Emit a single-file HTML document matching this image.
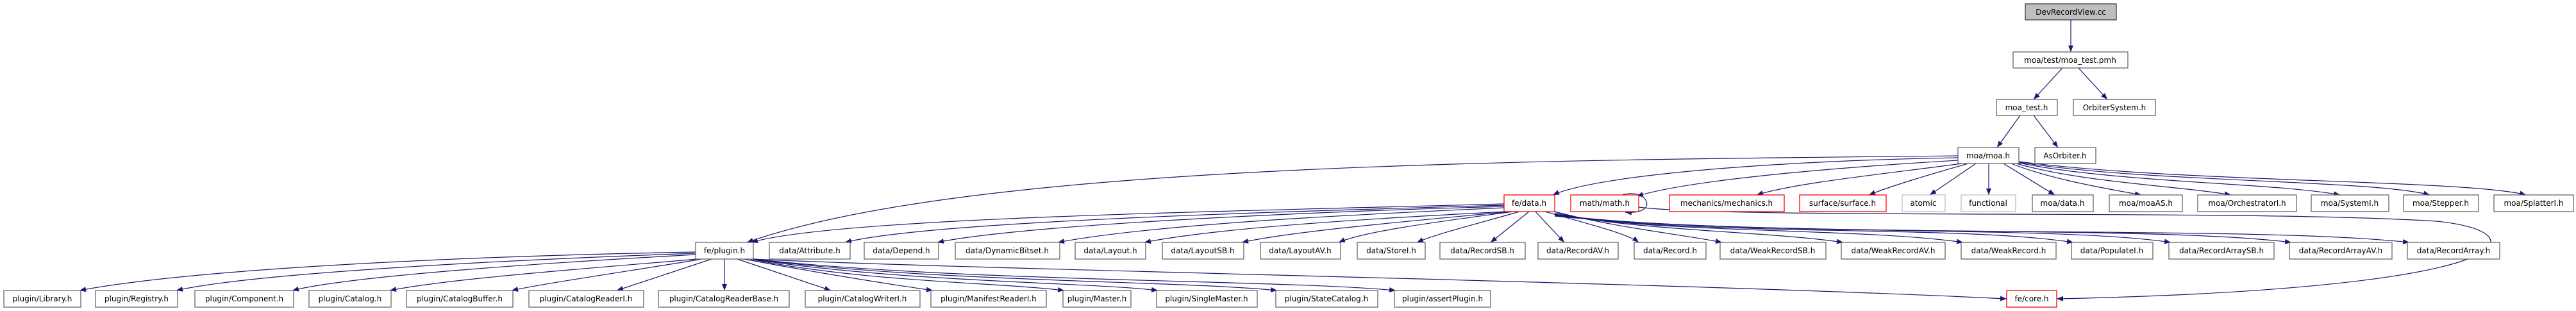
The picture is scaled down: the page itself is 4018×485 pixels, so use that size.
<!DOCTYPE html>
<html><head><meta charset="utf-8"><style>
html,body{margin:0;padding:0;background:#fff;}
svg{display:block;}
text{font-family:"DejaVu Sans","Liberation Sans",sans-serif;font-size:12px;fill:#000;text-anchor:middle;}
.n{fill:#fff;stroke:#666;stroke-width:1.3;}
.r{fill:#fff;stroke:#ff0000;stroke-width:1.3;}
.g{fill:#fff;stroke:#bfbfbf;stroke-width:1.3;}
.e{fill:none;stroke:#191970;stroke-width:1.2;}
</style></head><body>
<svg width="4018" height="485" viewBox="0 0 4018 485" xmlns="http://www.w3.org/2000/svg">
<defs><marker id="a" markerWidth="10" markerHeight="8" refX="10" refY="4" orient="auto" markerUnits="userSpaceOnUse"><path d="M0,0 L10,4 L0,8 z" fill="#191970"/></marker></defs>
<g marker-end="url(#a)">
<path class="e" d="M3230,31 L3230,81"/>
<path class="e" d="M3217,106 L3172,155"/>
<path class="e" d="M3242,106 L3287,155"/>
<path class="e" d="M3151,180 L3115,230"/>
<path class="e" d="M3172,180 L3210,230"/>
<path class="e" d="M3054,246 C2800,250 2500,270 2422,304"/>
<path class="e" d="M3054,250 C2800,265 2620,285 2553,306"/>
<path class="e" d="M3060,255 C2950,270 2800,285 2740,304"/>
<path class="e" d="M3070,255 C3000,275 2950,290 2915,304"/>
<path class="e" d="M3082,255 L3010,304"/>
<path class="e" d="M3102,255 L3102,304"/>
<path class="e" d="M3125,255 L3205,304"/>
<path class="e" d="M3137,255 C3200,280 3290,295 3340,304"/>
<path class="e" d="M3145,255 C3250,285 3400,290 3480,304"/>
<path class="e" d="M3149,254 C3300,285 3550,285 3650,304"/>
<path class="e" d="M3149,253 C3350,285 3700,280 3790,304"/>
<path class="e" d="M3149,252 C3400,285 3850,280 3940,304"/>
<path class="e" d="M3054,243 C2300,250 1500,260 1165,378"/>
<path class="e" d="M2346,318 C1900,330 1300,340 1172,378"/>
<path class="e" d="M2346,320 C2000,330 1450,345 1318,378"/>
<path class="e" d="M2346,322 C2050,330 1600,350 1462,378"/>
<path class="e" d="M2346,324 C2100,335 1800,350 1650,378"/>
<path class="e" d="M2350,330 C2150,340 1900,355 1785,378"/>
<path class="e" d="M2355,330 C2200,345 2020,360 1937,378"/>
<path class="e" d="M2360,330 C2250,345 2130,360 2088,378"/>
<path class="e" d="M2370,330 C2300,350 2240,365 2210,378"/>
<path class="e" d="M2385,330 L2325,378"/>
<path class="e" d="M2395,330 L2440,378"/>
<path class="e" d="M2410,330 C2480,350 2540,365 2556,378"/>
<path class="e" d="M2425,330 C2520,355 2620,365 2686,378"/>
<path class="e" d="M2425,332 C2550,360 2750,360 2875,378"/>
<path class="e" d="M2425,334 C2600,365 2900,355 3062,378"/>
<path class="e" d="M2425,334 C2650,370 3050,350 3234,378"/>
<path class="e" d="M2425,335 C2700,370 3200,350 3386,378"/>
<path class="e" d="M2425,336 C2750,372 3350,350 3574,378"/>
<path class="e" d="M2425,337 C2800,374 3500,350 3758,378"/>
<path class="e" d="M2530,304 C2570,292 2590,335 2535,331"/>
<path class="e" d="M2556,323 C2700,342 3500,326 3800,345 C3960,360 3960,450 3208,466"/>
<path class="e" d="M1085,393 C700,400 300,420 124,453"/>
<path class="e" d="M1085,395 C800,405 400,425 275,453"/>
<path class="e" d="M1085,397 C850,410 550,430 456,453"/>
<path class="e" d="M1088,404 C900,420 700,435 608,453"/>
<path class="e" d="M1095,404 C1000,420 860,440 798,453"/>
<path class="e" d="M1110,404 L962,453"/>
<path class="e" d="M1130,404 L1130,453"/>
<path class="e" d="M1150,404 L1296,453"/>
<path class="e" d="M1160,404 C1300,430 1400,445 1455,453"/>
<path class="e" d="M1170,404 C1350,440 1550,440 1660,453"/>
<path class="e" d="M1173,404 C1400,440 1700,440 1806,453"/>
<path class="e" d="M1175,404 C1450,440 1850,438 1992,453"/>
<path class="e" d="M1175,404 C1500,440 2000,436 2177,453"/>
<path class="e" d="M1175,404 C1500,420 2600,440 3130,466"/>
</g>
<rect x="3159" y="6" width="142" height="25" fill="#bfbfbf" stroke="#404040" stroke-width="1.3"/><text x="3230" y="23">DevRecordView.cc</text>
<rect class="n" x="3140" y="81" width="179" height="25"/><text x="3229" y="98">moa/test/moa_test.pmh</text>
<rect class="n" x="3114" y="155" width="95" height="25"/><text x="3161" y="172">moa_test.h</text>
<rect class="n" x="3234" y="155" width="128" height="25"/><text x="3298" y="172">OrbiterSystem.h</text>
<rect class="n" x="3054" y="230" width="95" height="25"/><text x="3101" y="247">moa/moa.h</text>
<rect class="n" x="3174" y="230" width="95" height="25"/><text x="3221" y="247">AsOrbiter.h</text>
<rect class="r" x="2346" y="304" width="79" height="26"/><text x="2385" y="321">fe/data.h</text>
<rect class="r" x="2450" y="304" width="106" height="26"/><text x="2503" y="321">math/math.h</text>
<rect class="r" x="2604" y="304" width="179" height="26"/><text x="2693" y="321">mechanics/mechanics.h</text>
<rect class="r" x="2807" y="304" width="135" height="26"/><text x="2874" y="321">surface/surface.h</text>
<rect class="g" x="2967" y="304" width="67" height="26"/><text x="3000" y="321">atomic</text>
<rect class="g" x="3059" y="304" width="85" height="26"/><text x="3101" y="321">functional</text>
<rect class="n" x="3170" y="304" width="95" height="26"/><text x="3217" y="321">moa/data.h</text>
<rect class="n" x="3290" y="304" width="114" height="26"/><text x="3347" y="321">moa/moaAS.h</text>
<rect class="n" x="3428" y="304" width="154" height="26"/><text x="3505" y="321">moa/OrchestratorI.h</text>
<rect class="n" x="3605" y="304" width="121" height="26"/><text x="3665" y="321">moa/SystemI.h</text>
<rect class="n" x="3749" y="304" width="117" height="26"/><text x="3807" y="321">moa/Stepper.h</text>
<rect class="n" x="3890" y="304" width="124" height="26"/><text x="3952" y="321">moa/SplatterI.h</text>
<rect class="n" x="1085" y="378" width="90" height="26"/><text x="1130" y="395">fe/plugin.h</text>
<rect class="n" x="1200" y="378" width="126" height="26"/><text x="1263" y="395">data/Attribute.h</text>
<rect class="n" x="1348" y="378" width="116" height="26"/><text x="1406" y="395">data/Depend.h</text>
<rect class="n" x="1490" y="378" width="163" height="26"/><text x="1571" y="395">data/DynamicBitset.h</text>
<rect class="n" x="1677" y="378" width="110" height="26"/><text x="1732" y="395">data/Layout.h</text>
<rect class="n" x="1813" y="378" width="127" height="26"/><text x="1876" y="395">data/LayoutSB.h</text>
<rect class="n" x="1966" y="378" width="125" height="26"/><text x="2028" y="395">data/LayoutAV.h</text>
<rect class="n" x="2117" y="378" width="106" height="26"/><text x="2170" y="395">data/StoreI.h</text>
<rect class="n" x="2246" y="378" width="133" height="26"/><text x="2312" y="395">data/RecordSB.h</text>
<rect class="n" x="2399" y="378" width="125" height="26"/><text x="2461" y="395">data/RecordAV.h</text>
<rect class="n" x="2549" y="378" width="112" height="26"/><text x="2605" y="395">data/Record.h</text>
<rect class="n" x="2683" y="378" width="165" height="26"/><text x="2765" y="395">data/WeakRecordSB.h</text>
<rect class="n" x="2872" y="378" width="162" height="26"/><text x="2953" y="395">data/WeakRecordAV.h</text>
<rect class="n" x="3059" y="378" width="148" height="26"/><text x="3133" y="395">data/WeakRecord.h</text>
<rect class="n" x="3231" y="378" width="127" height="26"/><text x="3294" y="395">data/PopulateI.h</text>
<rect class="n" x="3383" y="378" width="164" height="26"/><text x="3465" y="395">data/RecordArraySB.h</text>
<rect class="n" x="3571" y="378" width="160" height="26"/><text x="3651" y="395">data/RecordArrayAV.h</text>
<rect class="n" x="3755" y="378" width="144" height="26"/><text x="3827" y="395">data/RecordArray.h</text>
<rect class="n" x="6" y="453" width="120" height="26"/><text x="66" y="470">plugin/Library.h</text>
<rect class="n" x="149" y="453" width="128" height="26"/><text x="213" y="470">plugin/Registry.h</text>
<rect class="n" x="304" y="453" width="154" height="26"/><text x="381" y="470">plugin/Component.h</text>
<rect class="n" x="482" y="453" width="128" height="26"/><text x="546" y="470">plugin/Catalog.h</text>
<rect class="n" x="634" y="453" width="166" height="26"/><text x="717" y="470">plugin/CatalogBuffer.h</text>
<rect class="n" x="825" y="453" width="179" height="26"/><text x="914" y="470">plugin/CatalogReaderI.h</text>
<rect class="n" x="1027" y="453" width="204" height="26"/><text x="1129" y="470">plugin/CatalogReaderBase.h</text>
<rect class="n" x="1256" y="453" width="179" height="26"/><text x="1345" y="470">plugin/CatalogWriterI.h</text>
<rect class="n" x="1452" y="453" width="180" height="26"/><text x="1542" y="470">plugin/ManifestReaderI.h</text>
<rect class="n" x="1658" y="453" width="106" height="26"/><text x="1711" y="470">plugin/Master.h</text>
<rect class="n" x="1804" y="453" width="157" height="26"/><text x="1882" y="470">plugin/SingleMaster.h</text>
<rect class="n" x="1990" y="453" width="159" height="26"/><text x="2069" y="470">plugin/StateCatalog.h</text>
<rect class="n" x="2175" y="453" width="150" height="26"/><text x="2250" y="470">plugin/assertPlugin.h</text>
<rect class="r" x="3130" y="453" width="78" height="26"/><text x="3169" y="470">fe/core.h</text>
</svg>
</body></html>
